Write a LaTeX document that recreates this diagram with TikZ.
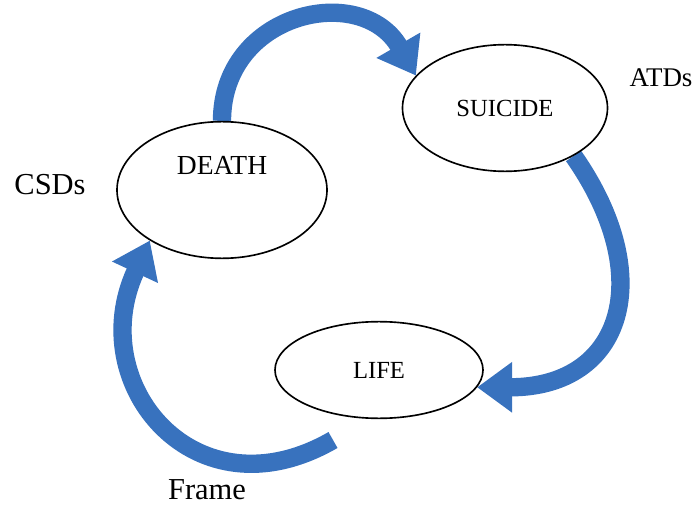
\documentclass[tikz,border=0pt]{standalone}
\usepackage{fontspec}
\setmainfont{Liberation Serif}
\usetikzlibrary{shapes,arrows.meta,positioning,backgrounds}
\definecolor{cycleblue}{RGB}{56,114,190}

\begin{document}
\begin{tikzpicture}[x=0.03cm,y=0.03cm,
  stage/.style={draw,line width=1.4pt,ellipse,fill=white,inner sep=0pt,font=\fontsize{21pt}{25pt}\selectfont},
  tag/.style={font=\fontsize{26pt}{30pt}\selectfont},
  cyclearrow/.style={cycleblue,line width=0.55cm,-{Triangle[width=1.45cm,length=1.05cm]}}]
\useasboundingbox (0,0) rectangle (694,-508);
% Stages
\node[stage,minimum width=6.3cm,minimum height=4.1cm,text depth=1.5cm,font=\fontsize{23.5pt}{27pt}\selectfont] (death) at (222,-190) {DEATH};
\node[stage,minimum width=6.15cm,minimum height=3.8cm] (suicide) at (505,-108) {SUICIDE};
\node[stage,minimum width=6.24cm,minimum height=2.9cm] (life) at (379,-370) {LIFE};
% Outer labels
\node[tag] (csds) at (50,-185) {CSDs};
\node[tag,font=\fontsize{23pt}{27pt}\selectfont] (atds) at (661,-78) {ATDs};
\node[tag] (frame) at (207,-490) {Frame};
\coordinate (frametail) at (333,-440);
% Cycle arrows
\begin{scope}[on background layer]
\draw[cyclearrow] (death.90) to[out=90,in=120,looseness=1.4] (suicide.160);
\draw[cyclearrow] (suicide.-35) to[out=-55,in=0,looseness=1.5] (life.-10);
\draw[cyclearrow] (frametail) to[out=-150,in=-115,looseness=1.5] (death.-145);
\end{scope}
\end{tikzpicture}
\end{document}
